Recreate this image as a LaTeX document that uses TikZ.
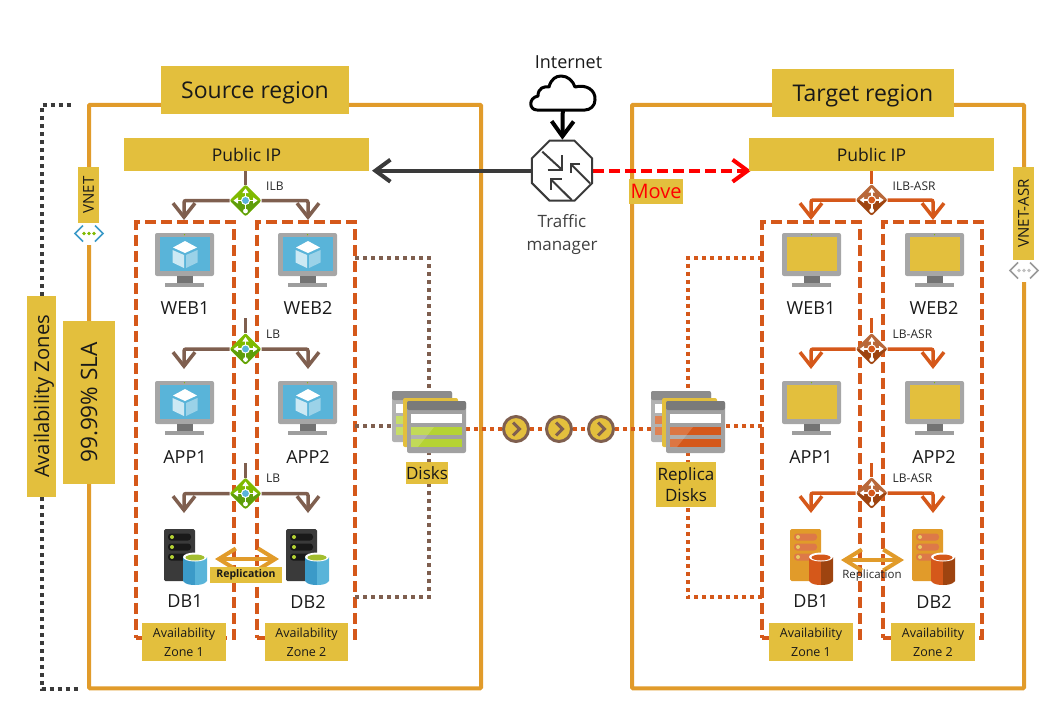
\documentclass[tikz,border=0pt]{standalone}
\usepackage{fontspec}
\setmainfont{Open Sans}
\usetikzlibrary{arrows.meta, shapes.geometric}
\pgfdeclarelayer{front}
\pgfsetlayers{main,front}
\definecolor{cgold}{HTML}{E3BF3D}
\definecolor{cframe}{HTML}{E19B2A}
\definecolor{crust}{HTML}{D5581A}
\definecolor{cbrown}{HTML}{7F5F4F}
\definecolor{cdark}{HTML}{3A3A3A}
\definecolor{cleaf}{HTML}{7FBA00}
\definecolor{cleafd}{HTML}{5E9E0A}
\definecolor{clime}{HTML}{B5D334}
\definecolor{crustl}{HTML}{B8683A}
\definecolor{crustd}{HTML}{9E4410}
\definecolor{csky}{HTML}{59B4D9}
\definecolor{cskyd}{HTML}{3B9AC8}
\tikzset{
  every picture/.style={line width=1pt},
  tag/.style={fill=cgold, align=center, inner sep=0pt, outer sep=0pt, text=black!90},
  title/.style={tag, text depth=0pt, font=\fontsize{23}{27}\selectfont},
  ipbox/.style={tag, minimum width=245pt, minimum height=33pt, font=\fontsize{17.5}{21}\selectfont},
  side/.style={tag, rotate=90, text depth=0pt, font=\fontsize{#1}{#1}\selectfont},
  side/.default=15,
  aztag/.style={tag, minimum width=84pt, minimum height=38pt, font=\fontsize{12.5}{19}\selectfont},
  unit/.style={inner sep=0pt, font=\fontsize{18}{22}\selectfont, text=black!90},
  small/.style={inner sep=0pt, font=\fontsize{12}{14}\selectfont, text=black!85},
  region/.style={draw=cframe, line width=4pt, rounded corners=1pt, inner sep=0pt, outer sep=0pt, minimum width=392pt, minimum height=583.5pt},
  zone/.style={draw=crust, line width=4pt, dash pattern=on 11pt off 5pt, inner sep=0pt, outer sep=0pt, minimum width=98pt, minimum height=415.5pt},
  hole/.style={fill=white, inner sep=0pt, outer sep=0pt, minimum width=30pt, minimum height=22pt},
  spot/.style={inner sep=0pt, outer sep=0pt},
  lbnode/.style={diamond, fill=#1, rounded corners=2pt, inner sep=0pt, outer sep=0pt, minimum size=32pt},
  hop/.style={circle, fill=cgold, draw=cbrown, line width=3pt, inner sep=0pt, minimum size=25pt},
  lbline/.style={draw=#1, line width=3.5pt, rounded corners=2pt},
  lbarrow/.style={lbline=#1, -{Straight Barb[length=14pt, width=22pt, line width=3.5pt]}},
  arrow/.style={-{Straight Barb[length=15pt, width=22pt, line width=4pt]}, draw=#1, line width=4pt},
  repl/.style={{Straight Barb[length=17pt, width=21pt, line width=4pt]}-{Straight Barb[length=17pt, width=21pt, line width=4pt]}, draw=cframe, line width=4pt},
  dots/.style={draw=#1, line width=4pt, dash pattern=on 4pt off 4pt},
  pics/monitor/.style={code={
    \fill[black!35, rounded corners=2pt] (0,0) rectangle (59,43);
    \fill[black!55] (22,43) rectangle (38,50);
    \fill[black!38] (10,50) rectangle (49,54);
    \fill[#1] (5,4) rectangle (55,38);
    \fill[cleaf] (29.5,1.7) circle (0.7);
  }},
  pics/cube/.style={code={
    \fill[white] (30,8) -- (42,14.5) -- (30,20) -- (18,14.5) -- cycle;
    \fill[csky!30] (17.5,17) -- (29,22) -- (29,35) -- (17.5,29.5) -- cycle;
    \fill[csky!60] (31,22) -- (42.5,17) -- (42.5,29.5) -- (31,35) -- cycle;
  }},
  pics/lbmark/.style n args={2}{code={
    \fill[#1, rounded corners=2pt] (-15.5,0) -- (15.5,0) -- (0,15.5) -- cycle;
    \draw[white, line width=1.6pt, -{Triangle[length=4.5pt, width=6pt]}] (0,0) -- (0,-12);
    \draw[white, line width=1.6pt, -{Triangle[length=4.5pt, width=6pt]}] (0,0) -- (-12,0);
    \draw[white, line width=1.6pt, -{Triangle[length=4.5pt, width=6pt]}] (0,0) -- (12,0);
    \draw[white, line width=1.6pt] (0,0) -- (0,9);
    \fill[white] (0,10.5) circle (2.4);
    \fill[white] (0,0) circle (4.6);
    \fill[#2] (0,0) circle (3.4);
  }},
  pics/dbstack/.style n args={6}{code={
    \fill[#1, rounded corners=1.5pt] (0,0) rectangle (31,52);
    \fill[#2, rounded corners=3pt] (4,4.5) rectangle (27,11.5);
    \fill[#2, rounded corners=3pt] (4,14.5) rectangle (27,21.5);
    \fill[#2, rounded corners=3pt] (4,24.5) rectangle (27,31.5);
    \fill[#3] (8,8) circle (2);
    \fill[#3] (8,18) circle (2);
    \fill[#3] (8,28) circle (2);
    \fill[#4] (31,28) -- (19,28) -- (19,52) .. controls (21,55.5) and (27,56) .. (31,56) -- cycle;
    \fill[#5] (31,28) -- (43,28) -- (43,52) .. controls (41,55.5) and (35,56) .. (31,56) -- cycle;
    \fill[white] (31,28) ellipse [x radius=12, y radius=4.5];
    \fill[#6] (31,28.5) ellipse [x radius=9.5, y radius=3];
  }},
  pics/diskstack/.style={code={
    \fill[black!30, rounded corners=2pt] (0,0) rectangle (60,51);
    \fill[black!45, rounded corners=2pt] (0,0) rectangle (60,9);
    \fill[white] (4,13) rectangle (14,22);
    \fill[#1!75] (4,25) rectangle (12,33);
    \fill[#1!75] (4,36) rectangle (12,44);
    \fill[cgold, rounded corners=2pt] (11,7) rectangle (66,56);
    \fill[black!37, rounded corners=2pt] (15,10) rectangle (74,62);
    \fill[black!52, rounded corners=2pt] (15,10) rectangle (74,19);
    \fill[white] (19,23) rectangle (70,32);
    \fill[#1] (19,36) rectangle (70,43.5);
    \fill[#1] (19,48) rectangle (70,56);
    \fill[white, opacity=.18] (19,36) -- (42,36) -- (26,56) -- (19,56) -- cycle;
  }},
  pics/vnetmark/.style n args={2}{code={
    \draw[#1, line width=1.6pt] (-6,-8) -- (-14,0) -- (-6,8);
    \draw[#1, line width=1.6pt] (6,-8) -- (14,0) -- (6,8);
    \fill[#2] (-5,0) circle (1.8);
    \fill[#2] (0,0) circle (1.8);
    \fill[#2] (5,0) circle (1.8);
  }},
  pics/tmarrows/.style={code={
    \draw[cdark, line width=2pt] (-19.7,-19) -- (0.3,-0.7);
    \draw[cdark, line width=2pt] (-14.3,-1) -- (0.3,-1) -- (0.3,-15.7);
    \draw[cdark, line width=2pt] (28,12.6) -- (8.7,-6.7);
    \draw[cdark, line width=2pt] (18,-6.7) -- (8.7,-6.7) -- (8.7,2.6);
    \draw[cdark, line width=2pt] (9.7,29.3) -- (-11.3,8.6);
    \draw[cdark, line width=2pt] (-0.3,8.6) -- (-11.3,8.6) -- (-11.3,19.3);
  }},
  pics/chevron/.style={code={
    \draw[cbrown, line width=3pt] (-3,-6.5) -- (3.5,0) -- (-3,6.5);
  }},
}

\begin{document}
\begin{tikzpicture}[x=1pt, y=-1pt]
  \useasboundingbox (0,0) rectangle (1062,709);
  \node[region] (srcframe) at (285,396.5) {};
  \node[region] (tgtframe) at (828,396.5) {};
  \node[zone] (zs1) at (185,429.75) {};
  \node[zone] (zs2) at (306,429.75) {};
  \node[zone] (zt1) at (811,429.75) {};
  \node[zone, minimum width=98.5pt] (zt2) at (932.3,429.75) {};
  \coordinate (aztop) at (74,105);
  \coordinate (azbot) at (78,689);
  \coordinate (lbstem2) at (245.5,318);
  \coordinate (lbstem3) at (245.5,463);
  \coordinate (lastem2) at (871.7,318);
  \coordinate (lastem3) at (871.7,463);
  \coordinate (s1) at (184,220);
  \coordinate (s2) at (308,220);
  \coordinate (s3) at (184,369);
  \coordinate (s4) at (308,369);
  \coordinate (s5) at (184,513);
  \coordinate (s6) at (308,513);
  \coordinate (t1) at (811,220);
  \coordinate (t2) at (933,220);
  \coordinate (t3) at (811,369);
  \coordinate (t4) at (933,369);
  \coordinate (t5) at (811,513);
  \coordinate (t6) at (933,513);
  \begin{pgfonlayer}{front}
    \node[title, minimum width=188pt, minimum height=48pt] (srctitle) at (255,90) {Source region};
    \node[title, minimum width=182pt, minimum height=48pt] (tgttitle) at (863,93) {Target region};
    \node[ipbox] (ipsrc) at (246.5,154.5) {Public IP};
    \node[ipbox] (iptgt) at (871.5,154.5) {Public IP};
    \node[side=20.2, minimum width=201pt, minimum height=29pt] (azones) at (41.5,396.5) {Availability Zones};
    \node[side=22.6, minimum width=163pt, minimum height=52pt] (sla) at (89,402.5) {99.99\% SLA};
    \node[hole] (vnetsrc) at (89,234) {};
    \pic at (89,233.5) {vnetmark={cskyd}{cleaf}};
    \node[side, minimum width=56pt, minimum height=21pt] (vnetlab) at (88.5,195) {VNET};
    \node[hole, minimum height=23pt] (vnettgt) at (1024,270.5) {};
    \pic at (1024,270.5) {vnetmark={black!40}{black!25}};
    \node[side, minimum width=93pt, minimum height=21pt] (vnetasr) at (1023.5,213.5) {VNET-ASR};
    \node[unit] (internet) at (568.5,62) {Internet};
    \node[spot, minimum width=66pt, minimum height=36pt] (cloud) at (563,93) {};
    \draw[black, line width=3pt, line join=round] (537,110) .. controls (529,110) and (528,98) .. (538,96) .. controls (538,88) and (544,86) .. (549,87) .. controls (551,79) and (556,76) .. (561,76) .. controls (568,76) and (573,81) .. (575,87) .. controls (586,84) and (596,90) .. (595,100) .. controls (595,106) and (590,110) .. (585,110) -- cycle;
    \node[regular polygon, regular polygon sides=8, draw=cdark, line width=2pt, fill=white, inner sep=0pt, minimum size=65pt] (tm) at (562,170.7) {};
    \pic at (tm) {tmarrows};
    \node[unit, align=center, font=\fontsize{17}{23}\selectfont, text=black!75] (tmlab) at (562,234.5) {Traffic\\manager};
    \node[tag, minimum width=54pt, minimum height=25pt, text=red, font=\fontsize{20}{24}\selectfont] (movelab) at (656,191.5) {Move};

    \node[lbnode=cleaf] (ilbsrc) at (245.5,200.5) {};
    \pic at (ilbsrc) {lbmark={cleafd}{csky}};
    \node[small, anchor=west] (ilblab) at (266,186) {ILB};
    \node[lbnode=cleaf] (lbsrc2) at (245.5,349) {};
    \pic at (lbsrc2) {lbmark={cleafd}{csky}};
    \node[small, anchor=west] (lblab2) at (266,334) {LB};
    \node[lbnode=cleaf] (lbsrc3) at (245.5,493.5) {};
    \pic at (lbsrc3) {lbmark={cleafd}{csky}};
    \node[small, anchor=west] (lblab3) at (266,478) {LB};
    \node[lbnode=crustl] (ilbtgt) at (871.7,200) {};
    \pic at (ilbtgt) {lbmark={crustd}{crust}};
    \node[small, anchor=west] (ilbasr) at (892.5,186) {ILB-ASR};
    \node[lbnode=crustl] (lbtgt2) at (871.7,349) {};
    \pic at (lbtgt2) {lbmark={crustd}{crust}};
    \node[small, anchor=west] (lbasr2) at (892.5,334) {LB-ASR};
    \node[lbnode=crustl] (lbtgt3) at (871.7,493) {};
    \pic at (lbtgt3) {lbmark={crustd}{crust}};
    \node[small, anchor=west] (lbasr3) at (892.5,478) {LB-ASR};

    \pic at (155,233) {monitor=csky};
    \pic at (155,233) {cube};
    \pic at (278,233) {monitor=csky};
    \pic at (278,233) {cube};
    \pic at (155,381) {monitor=csky};
    \pic at (155,381) {cube};
    \pic at (278,381) {monitor=csky};
    \pic at (278,381) {cube};
    \pic at (782,233) {monitor=cgold};
    \pic at (905,233) {monitor=cgold};
    \pic at (782,381) {monitor=cgold};
    \pic at (905,381) {monitor=cgold};
    \node[unit] (web1) at (185,308) {WEB1};
    \node[unit] (web2) at (308,308) {WEB2};
    \node[unit] (app1) at (185,457) {APP1};
    \node[unit] (app2) at (308,457) {APP2};
    \node[unit] (db1) at (185,601.5) {DB1};
    \node[unit] (db2) at (308,601.5) {DB2};
    \node[unit] (web1r) at (811,308) {WEB1};
    \node[unit] (web2r) at (934,308) {WEB2};
    \node[unit] (app1r) at (811,457) {APP1};
    \node[unit] (app2r) at (934,457) {APP2};
    \node[unit] (db1r) at (811,601.5) {DB1};
    \node[unit] (db2r) at (934,601.5) {DB2};

    \node[spot, minimum width=43pt, minimum height=56pt] (dbs1) at (185.5,559) {};
    \pic at (164,529) {dbstack={cdark}{black!90}{clime}{cskyd}{csky}{clime!90!black}};
    \node[spot, minimum width=43pt, minimum height=56pt] (dbs2) at (307.5,559) {};
    \pic at (286,529) {dbstack={cdark}{black!90}{clime}{cskyd}{csky}{clime!90!black}};
    \node[spot, minimum width=43pt, minimum height=56pt] (dbt1) at (811.5,560) {};
    \pic at (790,529) {dbstack={cframe}{crust!80}{cgold!80}{crust}{crustd}{crust}};
    \node[spot, minimum width=43pt, minimum height=56pt] (dbt2) at (933.5,560) {};
    \pic at (912,529) {dbstack={cframe}{crust!80}{cgold!80}{crust}{crustd}{crust}};
    \node[tag, minimum width=72pt, minimum height=16pt, font=\fontsize{10.5}{12}\selectfont\bfseries] (replsrc) at (246,575) {Replication};
    \node[small, font=\fontsize{11.5}{13}\selectfont] (repltgt) at (872,576) {Replication};

    \node[aztag] (az1) at (184,642) {Availability\\Zone 1};
    \node[aztag, minimum width=83pt] (az2) at (306.5,642) {Availability\\Zone 2};
    \node[aztag] (az1r) at (811,642) {Availability\\Zone 1};
    \node[aztag] (az2r) at (933,642) {Availability\\Zone 2};

    \node[spot, minimum width=74pt, minimum height=62pt] (disks) at (429,422) {};
    \pic at (392,391) {diskstack=clime};
    \node[tag, minimum width=42pt, minimum height=22pt, font=\fontsize{17}{21}\selectfont] (diskslab) at (427,473) {Disks};
    \node[spot, minimum width=73pt, minimum height=62pt] (replica) at (687.5,422) {};
    \pic at (651,391) {diskstack=crust};
    \node[tag, minimum width=60pt, minimum height=45pt, font=\fontsize{17}{21.5}\selectfont] (replicalab) at (686,484.5) {Replica\\Disks};

    \node[hop] (hop1) at (516,429) {};
    \pic at (hop1) {chevron};
    \node[hop] (hop2) at (559,429) {};
    \pic at (hop2) {chevron};
    \node[hop] (hop3) at (601,429) {};
    \pic at (hop3) {chevron};
  \end{pgfonlayer}
  \draw[dots=cdark] (azones) |- (aztop);
  \draw[dots=cdark] (azones) |- (azbot);
  \draw[arrow=black] (cloud) -- (tm);
  \draw[arrow=cdark] (tm) -- ([xshift=3pt]ipsrc.east |- tm);
  \draw[arrow=red, dash pattern=on 11pt off 5pt] (tm) -- ([xshift=2pt]iptgt.west |- tm);
  \draw[lbline=cbrown] (ipsrc.south -| ilbsrc) -- (ilbsrc);
  \draw[lbarrow=cbrown] (ilbsrc) -| (s1);
  \draw[lbarrow=cbrown] (ilbsrc) -| (s2);
  \draw[lbline=cbrown] (lbstem2) -- (lbsrc2);
  \draw[lbarrow=cbrown] (lbsrc2) -| (s3);
  \draw[lbarrow=cbrown] (lbsrc2) -| (s4);
  \draw[lbline=cbrown] (lbstem3) -- (lbsrc3);
  \draw[lbarrow=cbrown] (lbsrc3) -| (s5);
  \draw[lbarrow=cbrown] (lbsrc3) -| (s6);
  \draw[lbline=crust] (iptgt.south -| ilbtgt) -- (ilbtgt);
  \draw[lbarrow=crust] (ilbtgt) -| (t1);
  \draw[lbarrow=crust] (ilbtgt) -| (t2);
  \draw[lbline=crust] (lastem2) -- (lbtgt2);
  \draw[lbarrow=crust] (lbtgt2) -| (t3);
  \draw[lbarrow=crust] (lbtgt2) -| (t4);
  \draw[lbline=crust] (lastem3) -- (lbtgt3);
  \draw[lbarrow=crust] (lbtgt3) -| (t5);
  \draw[lbarrow=crust] (lbtgt3) -| (t6);
  \draw[repl, shorten <=8pt, shorten >=7pt] (dbs1) -- (dbs2);
  \draw[repl, shorten <=8pt, shorten >=8pt] (dbt1) -- (dbt2);
  \draw[dots=cbrown] (zs2.east |- 0,258) -| (disks);
  \draw[dots=cbrown] (zs2.east |- 0,597) -| (disks);
  \draw[dots=cbrown] (zs2.east |- 0,426) -- (disks.west |- 0,426);
  \draw[dots=crust] (disks.east |- 0,429) -- (hop1);
  \draw[dots=crust] (hop1) -- (hop2);
  \draw[dots=crust] (hop2) -- (hop3);
  \draw[dots=crust] (hop3) -- (replica.west |- 0,429);
  \draw[dots=crust] (zt1.west |- 0,258) -| (replica);
  \draw[dots=crust] (zt1.west |- 0,597) -| (replica);
  \draw[dots=crust] (zt1.west |- 0,426) -- (replica.east |- 0,426);
\end{tikzpicture}
\end{document}
